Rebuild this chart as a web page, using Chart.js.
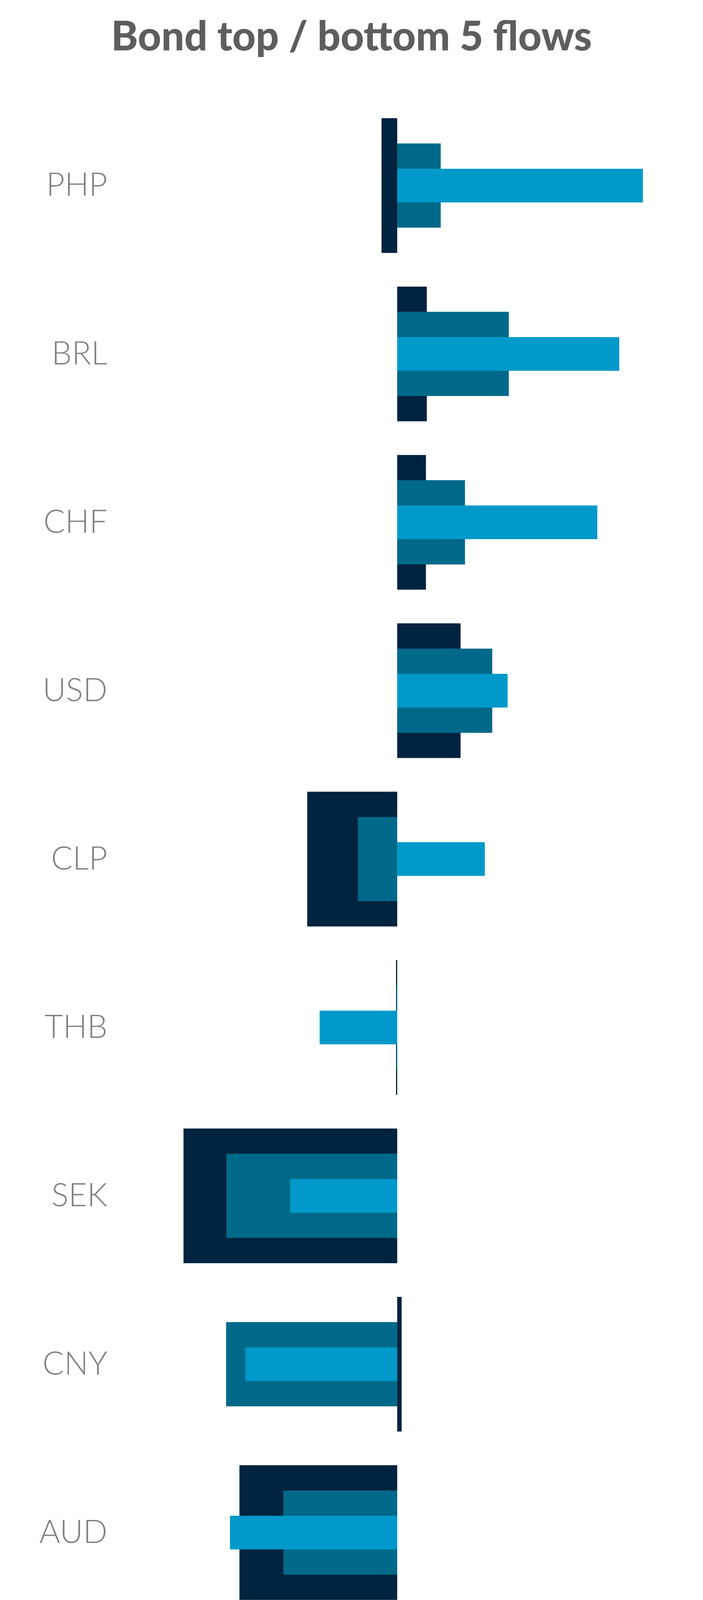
<!DOCTYPE html>
<html>
<head>
<meta charset="utf-8">
<script src="https://cdn.jsdelivr.net/npm/chart.js@4.4.1/dist/chart.umd.min.js"></script>
<style>
  html, body { margin: 0; padding: 0; background: #ffffff; }
  body { width: 1800px; height: 5196px; position: relative; overflow: hidden; font-family: Lato, "Noto Sans", sans-serif; }
  #title { position: absolute; left: 0; top: 26px; width: 1800px; text-align: center; font-weight: 900; font-size: 104px; color: #5d5e60; }
  #chartBox { position: absolute; left: 0; top: 0; width: 1800px; height: 4720px; }
  .legend-item { position: absolute; left: 80px; height: 64px; }
  .legend-item .swatch { position: absolute; left: 0; top: 0; width: 55px; height: 64px; }
  .legend-item .txt { position: absolute; left: 78px; top: -12px; font-size: 75px; font-weight: 300; color: #5f5f5f; white-space: nowrap; }
  #note { position: absolute; left: 763px; top: 4892px; font-size: 75px; font-weight: 300; line-height: 86px; color: #626262; white-space: nowrap; }
</style>
</head>
<body>
<div id="title">Bond top / bottom 5 flows</div>
<div id="chartBox"><canvas id="flowChart"></canvas></div>
<div id="legend"></div>
<div id="note">Data as of 2025-05-05<br>Sources:&nbsp; BNY, MSCI</div>
<script>
// Currencies, top to bottom
const currencies = ['PHP', 'BRL', 'CHF', 'USD', 'CLP', 'THB', 'SEK', 'CNY', 'AUD', 'DKK'];

// Flow values
const weekFlows = [0.830, 0.750, 0.676, 0.373, 0.296, -0.262, -0.362, -0.513, -0.565, -0.697];
const monthFlows = [0.147, 0.377, 0.229, 0.321, -0.133, -0.003, -0.577, -0.578, -0.385, -0.183];
const quarterFlows = [-0.053, 0.100, 0.097, 0.214, -0.304, -0.004, -0.722, 0.015, -0.533, -0.183];

// Axis ticks
const xTicks = [-0.5, 0, 0.5];

const seriesNames = ['Week', 'Month', 'Quarter'];
const seriesColors = ['#0099ca', '#00698a', '#00233f'];

// Build the legend
function buildLegend() {
    const holder = document.getElementById('legend');
    seriesNames.forEach((name, i) => {
        const item = document.createElement('div');
        item.className = 'legend-item';
        item.style.top = (4788 + i * 129) + 'px';
        item.innerHTML = '<div class="swatch" style="background:' + seriesColors[i] + '"></div><div class="txt">' + name + '</div>';
        holder.appendChild(item);
    });
}

function initChart() {
    const ctx = document.getElementById('flowChart');

    new Chart(ctx, {
        type: 'bar',
        data: {
            labels: currencies,
            datasets: [
                {
                    label: seriesNames[0],
                    data: weekFlows,
                    backgroundColor: seriesColors[0],
                    grouped: false,
                    categoryPercentage: 0.2,
                    barPercentage: 1.0
                },
                {
                    label: seriesNames[1],
                    data: monthFlows,
                    backgroundColor: seriesColors[1],
                    grouped: false,
                    categoryPercentage: 0.5,
                    barPercentage: 1.0
                },
                {
                    label: seriesNames[2],
                    data: quarterFlows,
                    backgroundColor: seriesColors[2],
                    grouped: false,
                    categoryPercentage: 0.8,
                    barPercentage: 1.0
                }
            ]
        },
        options: {
            indexAxis: 'y',
            responsive: true,
            maintainAspectRatio: false,
            animation: false,
            devicePixelRatio: 1,
            layout: {
                padding: { top: 259.5, right: 25, bottom: 0, left: 0 }
            },
            plugins: {
                legend: { display: false },
                title: { display: false },
                tooltip: { enabled: false }
            },
            scales: {
                x: {
                    type: 'linear',
                    min: -0.95,
                    max: 1.0,
                    grid: { display: false, drawTicks: false },
                    border: { display: false },
                    afterBuildTicks: scale => {
                        scale.ticks = xTicks.map(v => ({ value: v }));
                    },
                    afterFit: scale => {
                        scale.height = 150;
                    },
                    ticks: {
                        padding: 18,
                        color: '#808080',
                        font: { family: 'Lato', size: 80, weight: 300 },
                        callback: value => Number(value).toFixed(1)
                    }
                },
                y: {
                    grid: { display: false, drawTicks: false },
                    border: { display: false },
                    afterFit: scale => {
                        scale.width = 297;
                    },
                    ticks: {
                        padding: 22,
                        color: '#808080',
                        font: { family: 'Lato', size: 82, weight: 300 }
                    }
                }
            }
        }
    });
}

buildLegend();
initChart();
</script>
</body>
</html>
